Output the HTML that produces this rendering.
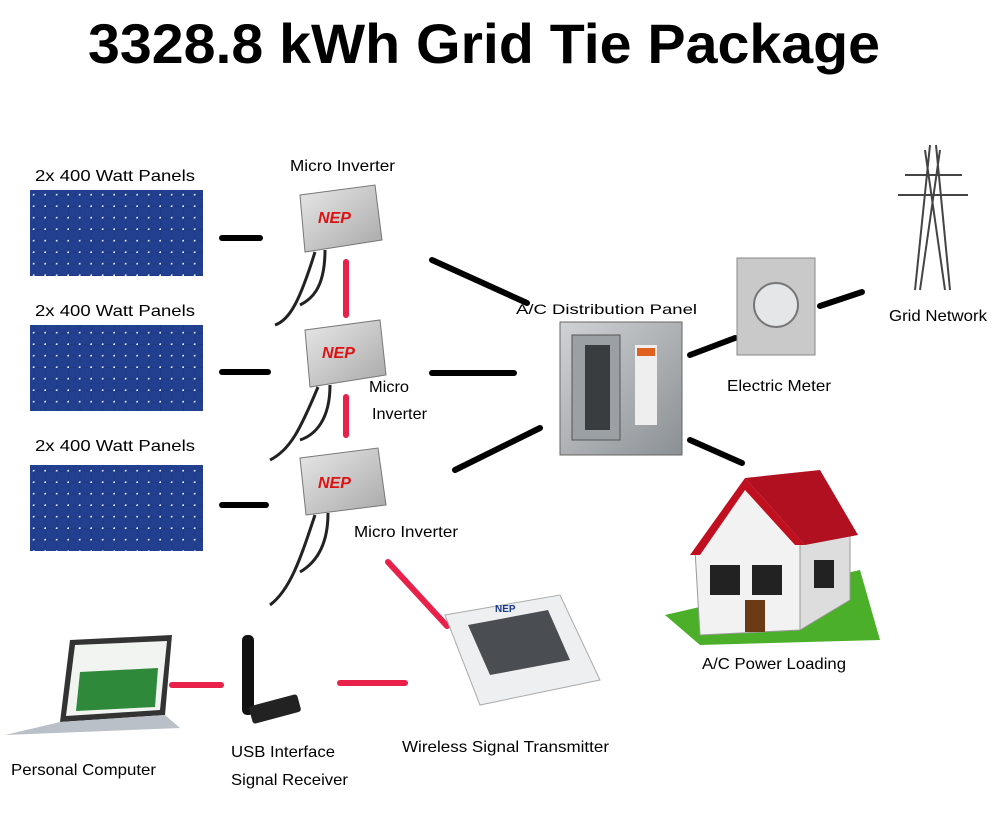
<!DOCTYPE html>
<html><head><meta charset="utf-8"><style>
body{margin:0;background:#fff;}
svg{display:block;font-family:"Liberation Sans",sans-serif;}
</style></head><body>
<svg width="1002" height="840" viewBox="0 0 1002 840" xmlns="http://www.w3.org/2000/svg">
<defs>
<pattern id="cells" width="11.5" height="11.5" patternUnits="userSpaceOnUse">
<rect width="11.5" height="11.5" fill="#1d3a85"/>
<rect x="0" y="0" width="10.5" height="10.5" fill="#22408f"/>
<circle cx="11" cy="11" r="1.3" fill="#e6ecff"/>
</pattern>
<linearGradient id="inv" x1="0" y1="0" x2="1" y2="1"><stop offset="0" stop-color="#e8e8e8"/><stop offset="1" stop-color="#a8a8a8"/></linearGradient>
<linearGradient id="pan" x1="0" y1="0" x2="1" y2="1"><stop offset="0" stop-color="#d0d3d6"/><stop offset="1" stop-color="#8b9094"/></linearGradient>
</defs>
<text x="88" y="63" font-size="56" font-weight="bold" fill="#000" textLength="792" lengthAdjust="spacingAndGlyphs">3328.8 kWh Grid Tie Package</text>

<g font-size="16" fill="#000">
<text x="35" y="181" textLength="160" lengthAdjust="spacingAndGlyphs">2x 400 Watt Panels</text>
<text x="35" y="316" textLength="160" lengthAdjust="spacingAndGlyphs">2x 400 Watt Panels</text>
<text x="35" y="451" textLength="160" lengthAdjust="spacingAndGlyphs">2x 400 Watt Panels</text>
<text x="290" y="171" textLength="105" lengthAdjust="spacingAndGlyphs">Micro Inverter</text>
<text x="369" y="392" textLength="40" lengthAdjust="spacingAndGlyphs">Micro</text>
<text x="372" y="419" textLength="55" lengthAdjust="spacingAndGlyphs">Inverter</text>
<text x="354" y="537" textLength="104" lengthAdjust="spacingAndGlyphs">Micro Inverter</text>
<text x="516" y="314" font-size="14" textLength="181" lengthAdjust="spacingAndGlyphs">A/C Distribution Panel</text>
<text x="727" y="391" textLength="104" lengthAdjust="spacingAndGlyphs">Electric Meter</text>
<text x="889" y="321" textLength="98" lengthAdjust="spacingAndGlyphs">Grid Network</text>
<text x="702" y="669" textLength="144" lengthAdjust="spacingAndGlyphs">A/C Power Loading</text>
<text x="402" y="752" textLength="207" lengthAdjust="spacingAndGlyphs">Wireless Signal Transmitter</text>
<text x="231" y="757" textLength="104" lengthAdjust="spacingAndGlyphs">USB Interface</text>
<text x="231" y="785" textLength="117" lengthAdjust="spacingAndGlyphs">Signal Receiver</text>
<text x="11" y="775" textLength="145" lengthAdjust="spacingAndGlyphs">Personal Computer</text>
</g>

<rect x="30" y="190" width="173" height="86" fill="url(#cells)"/>
<rect x="30" y="325" width="173" height="86" fill="url(#cells)"/>
<rect x="30" y="465" width="173" height="86" fill="url(#cells)"/>

<g stroke="#000" stroke-width="6" stroke-linecap="round">
<line x1="222" y1="238" x2="260" y2="238"/>
<line x1="222" y1="372" x2="268" y2="372"/>
<line x1="222" y1="505" x2="266" y2="505"/>
<line x1="432" y1="260" x2="527" y2="303"/>
<line x1="432" y1="373" x2="514" y2="373"/>
<line x1="455" y1="470" x2="540" y2="428"/>
<line x1="690" y1="355" x2="735" y2="338"/>
<line x1="820" y1="306" x2="862" y2="292"/>
<line x1="690" y1="440" x2="742" y2="463"/>
</g>
<g stroke="#e8204a" stroke-width="6" stroke-linecap="round">
<line x1="346" y1="262" x2="346" y2="315"/>
<line x1="346" y1="397" x2="346" y2="435"/>
<line x1="388" y1="562" x2="447" y2="626"/>
<line x1="172" y1="685" x2="221" y2="685"/>
<line x1="340" y1="683" x2="405" y2="683"/>
</g>

<g>
<polygon points="300,195 375,185 382,240 305,252" fill="url(#inv)" stroke="#777"/>
<text x="318" y="223" font-size="16" font-weight="bold" fill="#d11" font-style="italic">NEP</text>
<path d="M315,252 C300,300 290,320 275,325 M325,250 C325,290 310,300 300,305" stroke="#222" stroke-width="3" fill="none"/>
<polygon points="305,330 380,320 386,375 310,387" fill="url(#inv)" stroke="#777"/>
<text x="322" y="358" font-size="16" font-weight="bold" fill="#d11" font-style="italic">NEP</text>
<path d="M318,387 C300,430 290,450 270,460 M330,385 C330,420 315,435 300,440" stroke="#222" stroke-width="3" fill="none"/>
<polygon points="300,458 378,448 386,505 306,515" fill="url(#inv)" stroke="#777"/>
<text x="318" y="488" font-size="16" font-weight="bold" fill="#d11" font-style="italic">NEP</text>
<path d="M315,515 C300,560 290,590 270,605 M328,513 C328,550 312,565 300,572" stroke="#222" stroke-width="3" fill="none"/>
</g>

<rect x="560" y="322" width="122" height="133" fill="url(#pan)" stroke="#666"/>
<rect x="572" y="335" width="48" height="105" fill="#9aa0a4" stroke="#555"/>
<rect x="585" y="345" width="25" height="85" fill="#3a3d40"/>
<rect x="635" y="345" width="22" height="80" fill="#eee"/>
<rect x="637" y="348" width="18" height="8" fill="#e06020"/>

<rect x="737" y="258" width="78" height="97" fill="#c9c9c9" stroke="#888"/>
<circle cx="776" cy="305" r="22" fill="#e4e6e8" stroke="#777" stroke-width="2"/>

<g stroke="#444" stroke-width="2" fill="none">
<path d="M930,145 L915,290 M936,145 L950,290 M905,175 L962,175 M898,195 L968,195 M925,150 L945,290 M940,150 L920,290"/>
</g>

<polygon points="665,615 860,570 880,640 700,645" fill="#4caf2a"/>
<polygon points="695,550 745,480 800,540 800,630 700,635" fill="#f2f2f2" stroke="#999"/>
<polygon points="800,540 850,530 850,600 800,630" fill="#ddd" stroke="#999"/>
<polygon points="690,555 745,478 805,545 795,545 745,490 700,555" fill="#c01020"/>
<polygon points="745,478 820,470 858,535 805,545" fill="#b01020"/>
<rect x="710" y="565" width="30" height="30" fill="#222"/>
<rect x="752" y="565" width="30" height="30" fill="#222"/>
<rect x="814" y="560" width="20" height="28" fill="#222"/>
<rect x="745" y="600" width="20" height="32" fill="#6b3b16"/>

<polygon points="445,615 560,595 600,680 480,705" fill="#eeeff0" stroke="#aaa"/>
<polygon points="468,625 548,610 570,660 490,675" fill="#4a4d52"/>
<text x="495" y="612" font-size="10" font-weight="bold" fill="#1a3a8a">NEP</text>

<rect x="242" y="635" width="12" height="80" rx="5" fill="#111"/>
<rect x="250" y="700" width="50" height="18" rx="3" fill="#222" transform="rotate(-15 275 709)"/>

<polygon points="70,640 172,635 165,715 60,722" fill="#333"/>
<polygon points="75,645 167,641 160,710 66,716" fill="#f2f4f2"/>
<polygon points="80,672 158,668 155,707 76,711" fill="#2e8a3a"/>
<polygon points="60,722 165,715 180,728 5,735" fill="#b9c0c8"/>
</svg>
</body></html>
